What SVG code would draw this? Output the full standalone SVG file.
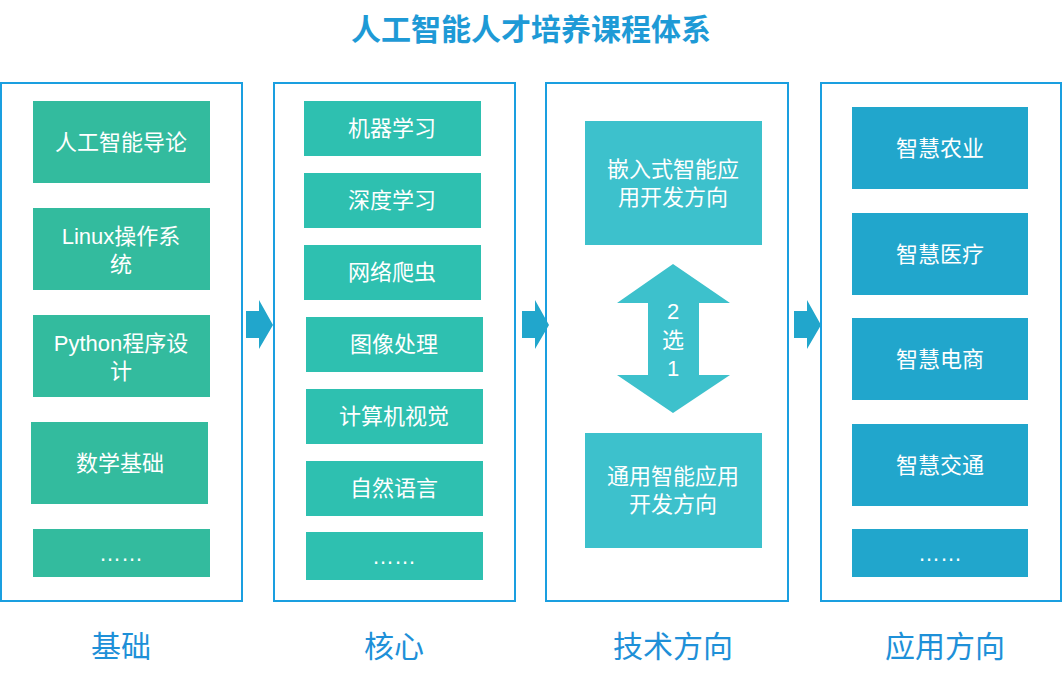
<svg xmlns="http://www.w3.org/2000/svg" width="1063" height="680" viewBox="0 0 1063 680">
<style>
text{font-family:"Liberation Sans","Noto Sans CJK SC",sans-serif;text-anchor:middle}
.col{fill:#fff;stroke:#1a9fe0;stroke-width:2}
.t{fill:#fff;font-size:22px}
.a{fill:#33bb9e}.b{fill:#2ec0b0}.c{fill:#3dc1cc}.d{fill:#21a6cc}
.lbl{fill:#1e90d8;font-size:30px}
</style>
<rect width="1063" height="680" fill="#fff"/>
<text x="531" y="40" style="font-size:30px;font-weight:bold;fill:#1e9ad6">人工智能人才培养课程体系</text>
<g id="col1"><rect class="col" x="1" y="83" width="241" height="518"/>
<rect class="a" x="33" y="101" width="177" height="82"/><text class="t" x="121" y="150">人工智能导论</text>
<rect class="a" x="33" y="208" width="177" height="82"/><text class="t" x="121" y="244">Linux操作系</text><text class="t" x="121" y="272">统</text>
<rect class="a" x="33" y="315" width="177" height="82"/><text class="t" x="121" y="351">Python程序设</text><text class="t" x="121" y="379">计</text>
<rect class="a" x="31" y="422" width="177" height="82"/><text class="t" x="120" y="471">数学基础</text>
<rect class="a" x="33" y="529" width="177" height="48"/><text class="t" x="121" y="561">……</text>
<text class="lbl" x="121" y="657">基础</text></g>
<g id="col2"><rect class="col" x="274" y="83" width="241" height="518"/>
<rect class="b" x="304" y="101" width="177" height="55"/><text class="t" x="392" y="136">机器学习</text>
<rect class="b" x="304" y="173" width="177" height="55"/><text class="t" x="392" y="208">深度学习</text>
<rect class="b" x="304" y="245" width="177" height="55"/><text class="t" x="392" y="280">网络爬虫</text>
<rect class="b" x="306" y="317" width="177" height="55"/><text class="t" x="394" y="352">图像处理</text>
<rect class="b" x="306" y="389" width="177" height="55"/><text class="t" x="394" y="424">计算机视觉</text>
<rect class="b" x="306" y="461" width="177" height="55"/><text class="t" x="394" y="496">自然语言</text>
<rect class="b" x="306" y="532" width="177" height="48"/><text class="t" x="394" y="564">……</text>
<text class="lbl" x="394" y="657">核心</text></g>
<g id="col3"><rect class="col" x="546" y="83" width="242" height="518"/>
<rect class="c" x="585" y="121" width="177" height="124"/><text class="t" x="673" y="177">嵌入式智能应</text><text class="t" x="673" y="205">用开发方向</text>
<path class="c" d="M673 264L730 303H699V375H730L673 413L617 375H648V303H617Z"/>
<text class="t" x="673" y="319">2</text><text class="t" x="673" y="348">选</text><text class="t" x="673" y="376">1</text>
<rect class="c" x="585" y="433" width="177" height="115"/><text class="t" x="673" y="484">通用智能应用</text><text class="t" x="673" y="512">开发方向</text>
<text class="lbl" x="673" y="657">技术方向</text></g>
<g id="col4"><rect class="col" x="821" y="83" width="240" height="518"/>
<rect class="d" x="852" y="107" width="176" height="82"/><text class="t" x="940" y="156">智慧农业</text>
<rect class="d" x="852" y="213" width="176" height="82"/><text class="t" x="940" y="262">智慧医疗</text>
<rect class="d" x="852" y="318" width="176" height="82"/><text class="t" x="940" y="367">智慧电商</text>
<rect class="d" x="852" y="424" width="176" height="82"/><text class="t" x="940" y="473">智慧交通</text>
<rect class="d" x="852" y="529" width="176" height="48"/><text class="t" x="940" y="561">……</text>
<text class="lbl" x="945" y="657">应用方向</text></g>
<g id="connectors" fill="#21a6cc">
<path d="M246 311H259V300L273 325L259 349V338H246Z"/>
<path d="M522 311H535V300L549 325L535 349V338H522Z"/>
<path d="M794 311H807V300L821 325L807 349V338H794Z"/>
</g>
</svg>
